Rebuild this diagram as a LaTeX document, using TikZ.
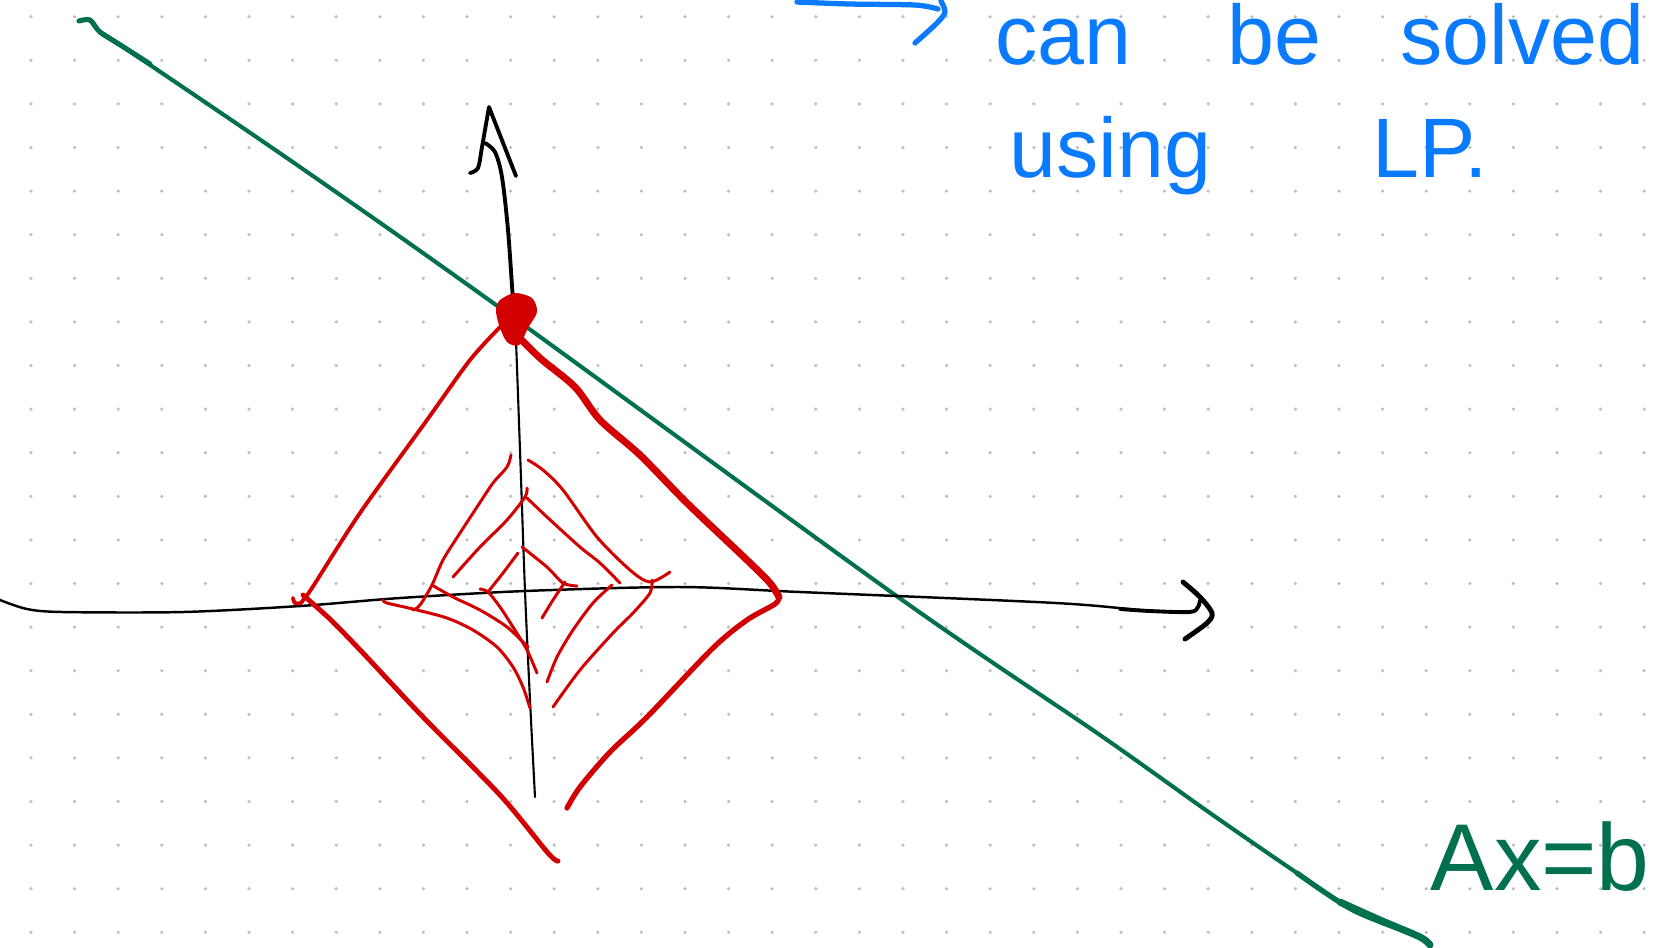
\documentclass[tikz,border=0pt]{standalone}
\usepackage{fontspec}
\setmainfont{Liberation Sans}
\usepackage{tikz}
\definecolor{inkblue}{HTML}{0A7AFF}
\definecolor{inkgreen}{HTML}{00704F}
\definecolor{inkred}{HTML}{D20000}
\definecolor{dotgrey}{HTML}{BDBDBD}

\begin{document}
\begin{tikzpicture}[x=0.01cm, y=-0.01cm, line cap=round, line join=round, every node/.style={font=\fontsize{24}{28}\selectfont}, hand/.style={inner sep=0pt, anchor=base west}, axisline/.style={black, line width=0.7pt}, greenline/.style={inkgreen, line width=1.15pt}, redline/.style={inkred, line width=0.85pt}, redthick/.style={inkred, line width=2pt}, blueline/.style={inkblue, line width=1.5pt}]
\fill[white] (0,0) rectangle (1656,947);
\useasboundingbox (0,0) rectangle (1656,947);
\foreach \i in {0,...,37}
  \foreach \j in {0,...,21}
    \fill[dotgrey] ({31+43.6*\i},{16.7+43.6*\j}) circle[radius=0.5pt];
\draw[greenline] plot[smooth] coordinates {(79,21) (90,20) (100,32) (122,46) (300,167) (503,310) (898,597) (1100,735) (1210,813) (1297,873) (1353,910) (1420,937) (1430,945)};
\draw[greenline, line width=1.45pt] plot[smooth] coordinates {(79,21) (90,20) (100,32) (122,46) (150,64)};
\draw[greenline, line width=1.5pt] plot[smooth] coordinates {(1297,873) (1353,910) (1420,937) (1430,945)};
\draw[greenline, line width=2pt] plot[smooth] coordinates {(1340,902) (1380,920) (1420,937) (1430,945)};
\draw[axisline] plot[smooth] coordinates {(0,600) (27,609) (63,612) (183,612) (300,606) (400,598) (525,591) (680,587) (800,592) (1056,603) (1150,611) (1190,612) (1198,607) (1200,600)};
\draw[axisline, line width=1.1pt] plot[smooth] coordinates {(1120,609) (1150,611) (1190,612) (1198,607) (1200,600)};
\draw[axisline, line width=1.4pt] plot[smooth] coordinates {(1183,582) (1200,597) (1212,613) (1207,623) (1185,639)};
\draw[axisline, line width=1.1pt] plot[smooth] coordinates {(485,143) (495,152) (502,177) (508,230) (513,300) (516,340)};
\draw[axisline, line width=0.6pt] plot[smooth] coordinates {(516,340) (520,450) (525,591) (530,700) (535,797)};
\draw[axisline, line width=1.1pt] plot[smooth] coordinates {(470,173) (478,168) (482,147) (489,107)} -- (516,176);
\fill[inkred] plot[smooth cycle] coordinates {(500,300) (515,293) (532,298) (537,312) (528,328) (519,345) (507,342) (499,325) (496,310)};
\draw[redline, line width=1.1pt] plot[smooth] coordinates {(502,325) (470,360) (427,420) (360,513) (312,588) (305,597) (301,603) (295,603) (293,598)};
\draw[redline, line width=1.4pt] plot[smooth] coordinates {(303,595) (320,610) (333,622) (363,653) (423,717) (500,795) (548,853) (558,861)};
\draw[redthick] plot[smooth] coordinates {(512,330) (540,358) (575,387) (600,420) (640,455) (687,503) (747,560) (770,583) (779,597)};
\draw[redline, line width=1.5pt] plot[smooth] coordinates {(779,597) (775,604) (747,620) (713,648) (647,717) (610,752) (580,787) (567,808)};
\draw[redline] plot[smooth] coordinates {(511,455) (507,467) (493,483) (477,507) (460,533) (443,560) (432,585) (420,605) (413,610)};
\draw[redline] plot[smooth] coordinates {(383,600) (387,603) (413,609) (447,618) (473,630) (497,647) (513,667) (523,687) (530,708)};
\draw[redline] plot[smooth] coordinates {(432,585) (453,597) (480,610) (507,627) (528,647)};
\draw[redline] plot[smooth] coordinates {(480,589) (488,592) (500,607) (513,627) (527,650) (537,673)};
\draw[redline] plot[smooth] coordinates {(488,592) (503,573) (518,553)};
\draw[redline] plot[smooth] coordinates {(453,577) (480,547) (507,520) (525,497) (527,488)};
\draw[redline] plot[smooth] coordinates {(527,498) (547,517) (580,547) (600,563) (620,583)};
\draw[redline] plot[smooth] coordinates {(528,460) (543,470) (563,490) (597,537) (630,570) (650,582) (670,572)};
\draw[redline] plot[smooth] coordinates {(522,547) (547,567) (563,583) (577,586)};
\draw[redline] plot[smooth] coordinates {(565,582) (553,600) (542,618)};
\draw[redline] plot[smooth] coordinates {(612,585) (593,603) (573,630) (557,657) (547,682)};
\draw[redline] plot[smooth] coordinates {(652,580) (650,593) (633,613) (613,633) (580,670) (553,707)};
\draw[blueline] plot[smooth] coordinates {(797,2) (850,4) (915,5) (938,9)};
\draw[blueline] plot[smooth] coordinates {(941,1) (945,12) (937,23) (915,43)};
\node[hand, text=inkblue] (solved) at (995,64) {can\hspace{9.6mm}be\hspace{7.9mm}solved};
\node[hand, text=inkblue] (using) at (1009,177) {using\hspace{16.1mm}LP.};
\node[hand, text=inkgreen, font=\fontsize{27}{32}\selectfont] (eq) at (1430,890) {Ax=b};
\end{tikzpicture}
\end{document}
